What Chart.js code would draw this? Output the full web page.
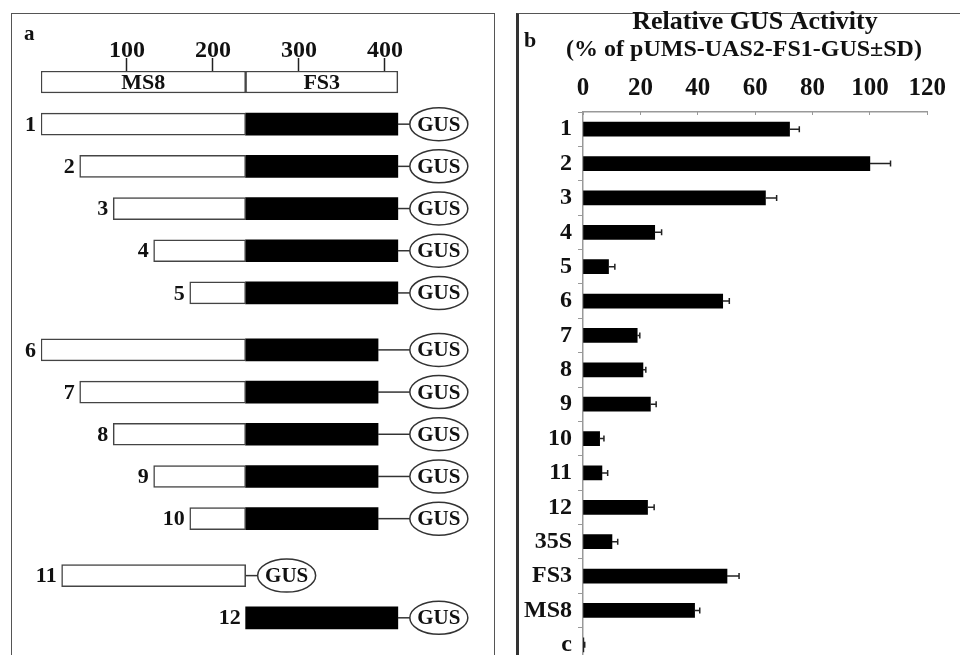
<!DOCTYPE html>
<html>
<head>
<meta charset="utf-8">
<script src="https://cdn.jsdelivr.net/npm/chart.js@4.4.1/dist/chart.umd.min.js"></script>
<style>
  html, body { margin: 0; padding: 0; background: #fff; }
  body { width: 960px; height: 655px; overflow: hidden; position: relative; }
  .frame { position: absolute; box-sizing: border-box; }
  #frameA { left: 11px; top: 13px; width: 484px; height: 700px; border: 1.5px solid #555; }
  #frameB { left: 516px; top: 13px; width: 460px; height: 700px; border-top: 1.5px solid #555; border-left: 3px solid #333; }
  .box { position: absolute; top: 0; }
  #boxA { left: 0; width: 505px; height: 680px; }
  #boxB { left: 517px; width: 443px; height: 662px; }
</style>
</head>
<body>
<div class="frame" id="frameA"></div>
<div class="frame" id="frameB"></div>
<div class="box" id="boxA"><canvas id="chartA"></canvas></div>
<div class="box" id="boxB"><canvas id="chartB"></canvas></div>
<script>
// ---- panel a: promoter constructs (positions in bp) ----
const scaleParts = ["MS8", "FS3"];
const scaleEdges = [0, 238, 415];
const constructs = ["1", "2", "3", "4", "5", "6", "7", "8", "9", "10", "11", "12"];
const groups = [1, 1, 1, 1, 1, 2, 2, 2, 2, 2, 3, 3];
const ms8Start = [0, 45, 84, 131, 173, 0, 45, 84, 131, 173, 24, null];
const ms8End = [238, 238, 238, 238, 238, 238, 238, 238, 238, 238, 238, null];
const fs3Start = [238, 238, 238, 238, 238, 238, 238, 238, 238, 238, null, 238];
const fs3End = [415, 415, 415, 415, 415, 392, 392, 392, 392, 392, null, 415];
const bpTicks = [100, 200, 300, 400];

// ---- panel b: relative GUS activity ----
const samples = ["1", "2", "3", "4", "5", "6", "7", "8", "9", "10", "11", "12", "35S", "FS3", "MS8", "c"];
const activity = [72, 100, 63.6, 25, 8.9, 48.7, 18.9, 20.9, 23.5, 5.8, 6.6, 22.5, 10.1, 50.2, 38.9, 0.3];
const activitySD = [3.4, 7.2, 3.9, 2.4, 2.2, 2.3, 0.9, 1.0, 2.0, 1.5, 2.0, 2.3, 2.0, 4.2, 1.8, 0.3];
const activityTicks = [0, 20, 40, 60, 80, 100, 120];

const SERIF = "'Liberation Serif', 'Times New Roman', serif";
const ink = "#111";

// row position on the construct diagram: one step per construct, extra gap between groups
const groupGap = 0.35;
const rowOf = i => i + 1 + groupGap * (groups[i] - 1);

function seg(starts, ends) {
  const out = [];
  starts.forEach((s, i) => {
    if (s !== null && ends[i] !== null) out.push({ x: [s, ends[i]], y: rowOf(i) });
  });
  return out;
}

const constructDecor = {
  id: "constructDecor",
  afterDatasetsDraw(chart) {
    const ctx = chart.ctx;
    const xs = chart.scales.x, ys = chart.scales.y;
    ctx.save();
    ctx.fillStyle = ink;
    ctx.strokeStyle = "#333";
    // panel letter
    ctx.font = "bold 21px " + SERIF;
    ctx.textAlign = "left";
    ctx.textBaseline = "alphabetic";
    ctx.fillText("a", 24, 40);
    // labels inside the scale bar
    ctx.font = "bold 22px " + SERIF;
    ctx.textAlign = "center";
    ctx.textBaseline = "middle";
    scaleParts.forEach((p, k) => {
      const cx = (xs.getPixelForValue(scaleEdges[k]) + xs.getPixelForValue(scaleEdges[k + 1])) / 2;
      ctx.fillText(p, cx, ys.getPixelForValue(0) + 1);
    });
    const column = xs.getPixelForValue(scaleEdges[2]);
    constructs.forEach((name, i) => {
      const y = ys.getPixelForValue(rowOf(i));
      const start = ms8Start[i] !== null ? ms8Start[i] : fs3Start[i];
      const end = fs3End[i] !== null ? fs3End[i] : ms8End[i];
      const left = xs.getPixelForValue(start);
      const right = xs.getPixelForValue(end);
      // construct number
      ctx.font = "bold 22px " + SERIF;
      ctx.textAlign = "right";
      ctx.fillStyle = ink;
      ctx.fillText(name, left - 5, y + 1);
      // linker + GUS reporter
      const ovalLeft = (fs3End[i] !== null ? column : right) + 12;
      const rx = 29, ry = 16.5;
      ctx.lineWidth = 1.5;
      ctx.beginPath();
      ctx.moveTo(right, y);
      ctx.lineTo(ovalLeft, y);
      ctx.stroke();
      ctx.beginPath();
      ctx.ellipse(ovalLeft + rx, y, rx, ry, 0, 0, Math.PI * 2);
      ctx.stroke();
      ctx.font = "bold 21px " + SERIF;
      ctx.textAlign = "center";
      ctx.fillText("GUS", ovalLeft + rx, y + 1);
    });
    ctx.restore();
  }
};

new Chart(document.getElementById("chartA"), {
  type: "bar",
  data: {
    datasets: [
      {
        label: "scale",
        data: [{ x: [scaleEdges[0], scaleEdges[1]], y: 0 }, { x: [scaleEdges[1], scaleEdges[2]], y: 0 }],
        backgroundColor: "#fff", borderColor: "#444", borderWidth: 1.5
      },
      {
        label: "MS8",
        data: seg(ms8Start, ms8End),
        backgroundColor: "#fff", borderColor: "#444", borderWidth: 1.5
      },
      {
        label: "FS3",
        data: seg(fs3Start, fs3End),
        backgroundColor: "#000", borderColor: "#000", borderWidth: 0
      }
    ]
  },
  options: {
    indexAxis: "y",
    responsive: true,
    maintainAspectRatio: false,
    animation: false,
    layout: { padding: { left: 41, right: 10, top: 34, bottom: 20 } },
    datasets: { bar: { grouped: false, barThickness: 22, borderSkipped: false } },
    plugins: { legend: { display: false }, tooltip: { enabled: false } },
    scales: {
      x: {
        type: "linear",
        position: "top",
        min: 0,
        max: 528,
        afterBuildTicks: s => { s.ticks = bpTicks.map(v => ({ value: v })); },
        afterFit: s => { s.height = 37; },
        border: { display: false },
        grid: { drawOnChartArea: false, tickLength: 13, tickColor: "#222", tickWidth: 1.5 },
        ticks: { color: ink, padding: -5, font: { family: SERIF, size: 24, weight: "bold", lineHeight: 1 } }
      },
      y: {
        type: "linear",
        display: false,
        offset: false,
        grid: { offset: false },
        reverse: true,
        min: -0.26,
        max: 13.7
      }
    }
  },
  plugins: [constructDecor]
});

const errorBars = {
  id: "errorBars",
  afterDatasetsDraw(chart) {
    const ctx = chart.ctx;
    const xs = chart.scales.x;
    const meta = chart.getDatasetMeta(0);
    ctx.save();
    ctx.strokeStyle = "#222";
    ctx.lineWidth = 1.5;
    meta.data.forEach((bar, i) => {
      const x1 = xs.getPixelForValue(activity[i]);
      const x2 = xs.getPixelForValue(activity[i] + activitySD[i]);
      ctx.beginPath();
      ctx.moveTo(x1, bar.y);
      ctx.lineTo(x2, bar.y);
      ctx.moveTo(x2, bar.y - 3);
      ctx.lineTo(x2, bar.y + 3);
      ctx.stroke();
    });
    ctx.restore();
  },
  afterDraw(chart) {
    const ctx = chart.ctx;
    ctx.save();
    ctx.fillStyle = ink;
    ctx.font = "bold 22px " + SERIF;
    ctx.textAlign = "left";
    ctx.textBaseline = "alphabetic";
    ctx.fillText("b", 7, 47);
    ctx.font = "bold 26px " + SERIF;
    ctx.textAlign = "center";
    ctx.fillText("Relative GUS Activity", 238, 29);
    ctx.font = "bold 24px " + SERIF;
    ctx.fillText("(% of pUMS-UAS2-FS1-GUS\u00B1SD)", 227, 56);
    ctx.restore();
  }
};

new Chart(document.getElementById("chartB"), {
  type: "bar",
  data: {
    labels: samples,
    datasets: [{
      label: "Relative GUS Activity",
      data: activity,
      backgroundColor: "#000",
      borderWidth: 0,
      barThickness: 14
    }]
  },
  options: {
    indexAxis: "y",
    responsive: true,
    maintainAspectRatio: false,
    animation: false,
    layout: { padding: { left: 0, right: 25, top: 65, bottom: 0 } },
    plugins: { legend: { display: false }, tooltip: { enabled: false } },
    scales: {
      x: {
        type: "linear",
        position: "top",
        min: 0,
        max: 120,
        afterBuildTicks: s => { s.ticks = activityTicks.map(v => ({ value: v })); },
        afterFit: s => { s.height = 47; },
        border: { color: "#999", width: 1.5 },
        grid: { drawOnChartArea: false, tickLength: -3, tickColor: "#999" },
        ticks: { color: ink, padding: 14, font: { family: SERIF, size: 25, weight: "bold", lineHeight: 1 } }
      },
      y: {
        afterFit: s => { s.width = 66; s.paddingTop = 0; s.paddingBottom = 0; },
        border: { color: "#999", width: 1.5 },
        grid: { drawOnChartArea: false, tickLength: 5, tickColor: "#999" },
        ticks: { color: ink, padding: 6, font: { family: SERIF, size: 24, weight: "bold" } }
      }
    }
  },
  plugins: [errorBars]
});
</script>
</body>
</html>
